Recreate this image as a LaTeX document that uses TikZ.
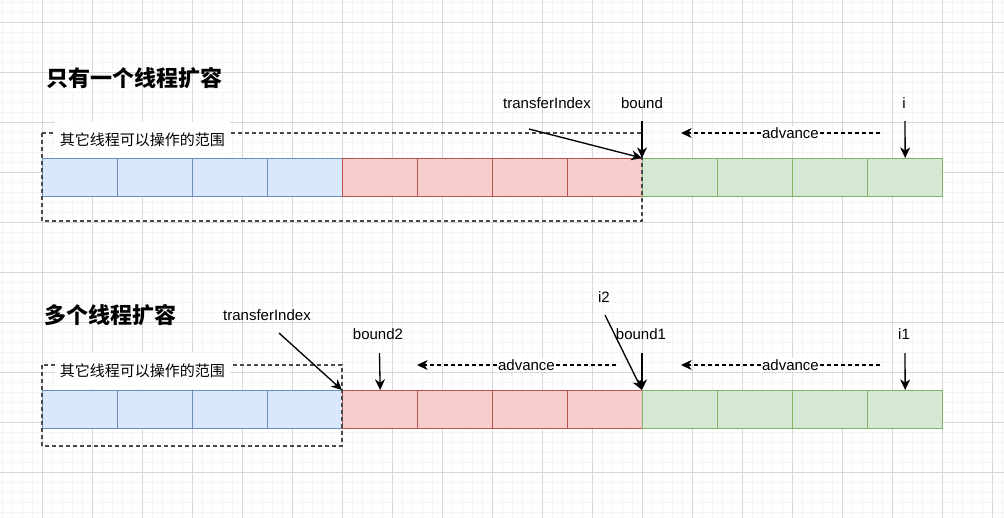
\documentclass[tikz,border=0pt]{standalone}
\usepackage{fontspec}
\setmainfont{Liberation Sans}
\newfontfamily\cjk{Noto Sans CJK SC}
\usetikzlibrary{arrows.meta,positioning}
\definecolor{blue1}{HTML}{DAE8FC}
\definecolor{blue2}{HTML}{6C8EBF}
\definecolor{red1}{HTML}{F8CECC}
\definecolor{red2}{HTML}{B85450}
\definecolor{green1}{HTML}{D5E8D4}
\definecolor{green2}{HTML}{82B366}
\definecolor{gridminor}{HTML}{F4F4F4}
\definecolor{gridmajor}{HTML}{D8D8D8}
\definecolor{ink}{HTML}{000000}
\definecolor{muted}{HTML}{4A4A4A}

\begin{document}
\begin{tikzpicture}[x=0.75pt,y=-0.75pt,
  cell/.style={draw,line width=1pt,minimum width=56.25pt,minimum height=28.5pt,
               inner sep=0pt,anchor=north west},
  lbl/.style={font=\fontsize{11.25}{13}\selectfont,inner sep=1pt,color=ink},
  ttl/.style={font=\cjk\bfseries\fontsize{16.5}{20}\selectfont,anchor=west,inner sep=0pt},
  zone/.style={fill=white,inner sep=0pt,minimum width=131.25pt,minimum height=27pt,
               font=\cjk\fontsize{11.25}{13}\selectfont},
  arr/.style={-{Stealth[length=8pt,width=7.5pt,inset=2.5pt]},line width=1pt,ink},
  adv/.style={arr,dash pattern=on 3pt off 2.25pt}]
  \useasboundingbox (0,0) rectangle (1004,518);
  \fill[white] (0,0) rectangle (1004,518);
  % grid
  \foreach \x in {2,12,...,1002}{\draw[gridminor,line width=0.75pt] (\x,0) -- (\x,518);}
  \foreach \y in {2,12,...,512}{\draw[gridminor,line width=0.75pt] (0,\y) -- (1004,\y);}
  \foreach \x in {42,92,...,992}{\draw[gridmajor,line width=0.75pt] (\x,0) -- (\x,518);}
  \foreach \y in {22,72,...,472}{\draw[gridmajor,line width=0.75pt] (0,\y) -- (1004,\y);}
  % cells
  \foreach \r/\y in {1/158,2/390}{
    \foreach \k in {0,...,3}{\node[cell,fill=blue1,draw=blue2] (c\r-\k) at (42+75*\k,\y) {};}
    \foreach \k in {4,...,7}{\node[cell,fill=red1,draw=red2] (c\r-\k) at (42+75*\k,\y) {};}
    \foreach \k in {8,...,11}{\node[cell,fill=green1,draw=green2] (c\r-\k) at (42+75*\k,\y) {};}
  }
  % ranges other threads may touch
  \draw[muted,line width=0.9pt,dash pattern=on 3pt off 2.25pt] (42,133) rectangle (642,221);
  \draw[muted,line width=0.9pt,dash pattern=on 3pt off 2.25pt] (42,365) rectangle (342,446);
  \node[zone] (z1) at (142.5,140) {其它线程可以操作的范围};
  \node[zone] (z2) at (142.5,371) {其它线程可以操作的范围};
  % titles
  \node[ttl] (t1) at (46,78) {只有一个线程扩容};
  \node[ttl] (t2) at (44,315) {多个线程扩容};
  % single thread
  \node[lbl] (ti1) at (547,103) {transferIndex};
  \node[lbl] (bd) at (642,103) {bound};
  \node[lbl] (i) at (904,103) {i};
  \coordinate (ti1s) at (529,129);
  \coordinate (bds) at (642,121);
  \coordinate (is) at (905,121);
  \coordinate (a1s) at (880,133);
  \coordinate (a1e) at (681,133);
  \draw[arr] (ti1s) -- (c1-8.north west);
  \draw[arr] (bds) -- (c1-8.north west);
  \draw[arr] (is) -- (c1-11.north);
  \draw[adv] (a1s) -- node[lbl,fill=white,pos=0.45] (adv1) {advance} (a1e);
  % several threads
  \node[lbl] (ti2) at (267,315) {transferIndex};
  \node[lbl] (bd2) at (378,334) {bound2};
  \node[lbl] (i2) at (604,297) {i2};
  \node[lbl] (bd1) at (641,334) {bound1};
  \node[lbl] (i1) at (904,334) {i1};
  \coordinate (ti2s) at (279,333);
  \coordinate (bd2s) at (379.5,353);
  \coordinate (i2s) at (605,315);
  \coordinate (bd1s) at (642,353);
  \coordinate (i1s) at (905,353);
  \coordinate (a2s) at (880,365);
  \coordinate (a2e) at (681,365);
  \coordinate (a3s) at (616,365);
  \coordinate (a3e) at (417,365);
  \draw[arr] (ti2s) -- (c2-4.north west);
  \draw[arr] (bd2s) -- (c2-4.north);
  \draw[arr] (i2s) -- (c2-8.north west);
  \draw[arr] (bd1s) -- (c2-8.north west);
  \draw[arr] (i1s) -- (c2-11.north);
  \draw[adv] (a2s) -- node[lbl,fill=white,pos=0.45] (adv2) {advance} (a2e);
  \draw[adv] (a3s) -- node[lbl,fill=white,pos=0.45] (adv3) {advance} (a3e);
\end{tikzpicture}
\end{document}
